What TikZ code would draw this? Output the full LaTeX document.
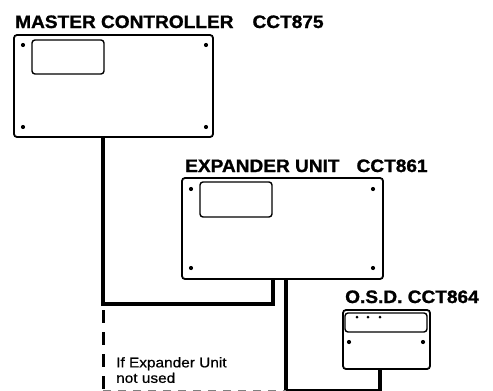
\documentclass[tikz,border=0pt]{standalone}
\usepackage{fontspec}
\usetikzlibrary{calc}
\newfontfamily\ttlfont{Liberation Sans}[FakeStretch=1.06,FakeBold=1.2]
\newfontfamily\notefont{Liberation Sans}[FakeStretch=1.1,FakeBold=0.6]
\tikzset{
  unitbox/.style={draw, line width=1.8pt, rounded corners=3pt, inner sep=0pt, outer sep=0pt},
  screen/.style={draw, line width=1.4pt, rounded corners=3pt, inner sep=0pt, outer sep=0pt},
  screw/.style={fill, circle, inner sep=0pt, minimum size=4.2pt},
  led/.style={fill, circle, inner sep=0pt, minimum size=3pt},
  wire/.style={line width=3.2pt, line join=miter},
  altwire/.style={line width=3pt, dash pattern=on 13pt off 9pt},
  altbottom/.style={line width=2pt, gray, dash pattern=on 8pt off 7pt},
  title/.style={anchor=base west, inner sep=0pt, font=\ttlfont\bfseries\fontsize{18}{20}\selectfont},
  note/.style={anchor=north west, inner sep=0pt, align=left, font=\notefont\fontsize{14}{15.5}\selectfont}
}
\begin{document}
\begin{tikzpicture}[x=1pt,y=-1pt]
\useasboundingbox (0,0) rectangle (493,391);
\clip (0,0) rectangle (493,391);
\fill[white] (0,0) rectangle (493,391);

% Master controller
\node[title] (mtitle) at (15,28) {MASTER CONTROLLER\hspace{19pt}CCT875};
\node[unitbox, minimum width=199pt, minimum height=102pt] (master) at (113.5,86) {};
\node[screen, minimum width=72pt, minimum height=34pt] (mscreen) at (68,57) {};
\node[screw] (ms1) at ($(master.north west)+(9,10)$) {};
\node[screw] (ms2) at ($(master.north east)+(-7,10)$) {};
\node[screw] (ms3) at ($(master.south west)+(9,-10)$) {};
\node[screw] (ms4) at ($(master.south east)+(-7,-10)$) {};

% Expander unit
\node[title] (etitle) at (185,172) {EXPANDER UNIT\hspace{17pt}CCT861};
\node[unitbox, minimum width=201pt, minimum height=101pt] (exp) at (282.5,228.5) {};
\node[screen, minimum width=72pt, minimum height=35pt] (escreen) at (236,199.5) {};
\node[screw] (es1) at ($(exp.north west)+(9,11)$) {};
\node[screw] (es2) at ($(exp.north east)+(-10,11)$) {};
\node[screw] (es3) at ($(exp.south west)+(9,-11)$) {};
\node[screw] (es4) at ($(exp.south east)+(-10,-11)$) {};

% O.S.D.
\node[title] (otitle) at (345,303) {O.S.D. CCT864};
\node[unitbox, minimum width=87pt, minimum height=59pt] (osd) at (386.5,339.5) {};
\node[screen, minimum width=82pt, minimum height=19pt] (ostrip) at (386,322.5) {};
\node[led] (l1) at (357,317) {};
\node[led] (l2) at (368,317) {};
\node[led] (l3) at (380,317) {};
\node[screw] (os1) at ($(osd.west)+(6,2.5)$) {};
\node[screw] (os2) at ($(osd.east)+(-7,2.5)$) {};

% connection points
\coordinate (mout) at ($(master.south west)+(89,0)$);
\coordinate (ein) at ($(exp.south west)+(91,0)$);
\coordinate (eout) at ($(exp.south west)+(104,0)$);
\coordinate (oout) at ($(osd.south west)+(37,0)$);
\coordinate (mcorner) at ($(mout |- ein)+(0,25)$);
\coordinate (bot) at (0,390.5);

% wires
\draw[wire] (mout) -- (mcorner) -| (ein);
\draw[wire] (eout) |- (oout |- bot) -- (oout);

% alternative (dashed) connection
\draw[altwire] ($(mcorner)+(0,6)$) -- (mcorner |- bot);
\draw[altbottom] (mcorner |- bot) -- (eout |- bot);

\node[note] (note) at (116,357) {If Expander Unit\\not used};
\end{tikzpicture}
\end{document}
